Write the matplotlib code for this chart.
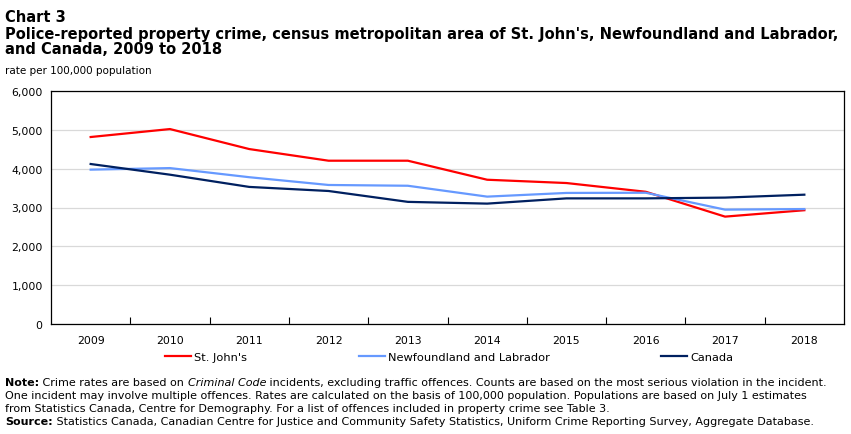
import numpy as np
from matplotlib import pyplot as plt

years = ['2009', '2010', '2011', '2012', '2013', '2014', '2015', '2016', '2017', '2018']
st_johns = [4815, 5020, 4505, 4205, 4205, 3715, 3630, 3405, 2765, 2930]
nl = [3975, 4015, 3780, 3580, 3560, 3280, 3375, 3380, 2945, 2960]
canada = [4120, 3845, 3530, 3425, 3145, 3100, 3235, 3235, 3255, 3330]
y_ticks = [0, 1000, 2000, 3000, 4000, 5000, 6000]

plt.rcParams['font.family'] = ['DejaVu Sans']

fig = plt.figure(figsize=(8.51, 4.35), dpi=100)
ax = fig.add_axes([51 / 851, 110 / 435, 793 / 851, 233 / 435])

x = np.arange(len(years))
ax.plot(x, st_johns, color='#ff0000', lw=1.6, label="St. John's")
ax.plot(x, nl, color='#6699ff', lw=1.6, label='Newfoundland and Labrador')
ax.plot(x, canada, color='#002060', lw=1.6, label='Canada')

ax.set_xlim(-0.5, len(years) - 0.5)
ax.set_ylim(0, 6000)
ax.set_yticks(y_ticks)
ax.set_yticklabels([f'{v:,}' for v in y_ticks], fontsize=7.8)
ax.set_xticks(x)
ax.set_xticklabels(years, fontsize=7.8)
ax.set_xticks(x[:-1] + 0.5, minor=True)
ax.tick_params(axis='x', which='major', length=0, pad=8)
ax.tick_params(axis='x', which='minor', direction='in', length=5, width=0.8)
ax.tick_params(axis='y', length=0, pad=6)
ax.grid(axis='y', color='#d9d9d9', lw=0.9)
ax.set_axisbelow(True)
for s in ax.spines.values():
    s.set_linewidth(0.9)
    s.set_color('black')

# titles
fig.text(5 / 851, 1 - 17 / 435, 'Chart 3', fontsize=10.5, fontweight='bold', va='center')
fig.text(5 / 851, 1 - 34 / 435,
         "Police-reported property crime, census metropolitan area of St. John's, Newfoundland and Labrador,",
         fontsize=10.5, fontweight='bold', va='center')
fig.text(5 / 851, 1 - 50 / 435, 'and Canada, 2009 to 2018', fontsize=10.5, fontweight='bold', va='center')
fig.text(5 / 851, 1 - 71 / 435, 'rate per 100,000 population', fontsize=7.5, va='center')

# legend
fig.legend(loc='center', bbox_to_anchor=(449 / 851, 1 - 358 / 435), ncol=3, frameon=False,
           fontsize=8.2, handlelength=2.3, handletextpad=0.25, columnspacing=9.8)

# notes, pieced together so bold / italic parts line up
fs = 8.0
n1 = fig.text(5 / 851, 1 - 383 / 435, 'Note:', fontsize=fs, fontweight='bold', va='center')
n2 = ax.annotate(' Crime rates are based on ', xy=(1, 0), xycoords=n1, fontsize=fs, va='bottom')
n3 = ax.annotate('Criminal Code', xy=(1, 0), xycoords=n2, fontsize=fs, style='italic', va='bottom')
ax.annotate(' incidents, excluding traffic offences. Counts are based on the most serious violation in the incident.',
            xy=(1, 0), xycoords=n3, fontsize=fs, va='bottom')
fig.text(5 / 851, 1 - 396 / 435,
         'One incident may involve multiple offences. Rates are calculated on the basis of 100,000 population. '
         'Populations are based on July 1 estimates', fontsize=fs, va='center')
fig.text(5 / 851, 1 - 409 / 435,
         'from Statistics Canada, Centre for Demography. For a list of offences included in property crime see Table 3.',
         fontsize=fs, va='center')
s1 = fig.text(5 / 851, 1 - 422 / 435, 'Source:', fontsize=fs, fontweight='bold', va='center')
ax.annotate(' Statistics Canada, Canadian Centre for Justice and Community Safety Statistics, '
            'Uniform Crime Reporting Survey, Aggregate Database.',
            xy=(1, 0), xycoords=s1, fontsize=fs, va='bottom')

fig.savefig('out.png', dpi=100)
